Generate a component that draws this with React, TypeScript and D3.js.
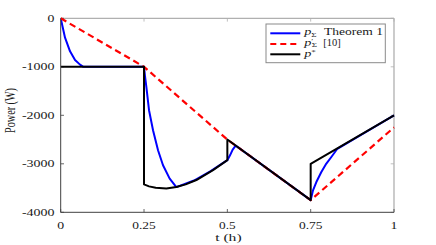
import React from "react";
import * as d3 from "d3";

const W = 436;
const H = 245;

const xTicks = [0, 0.25, 0.5, 0.75, 1];
const xTickLabels = ["0", "0.25", "0.5", "0.75", "1"];
const yTicks = [0, -1000, -2000, -3000, -4000];
const yTickLabels = ["0", "-1000", "-2000", "-3000", "-4000"];

// p_Sigma (Theorem 1)
const blueT = [0, 0.013, 0.028, 0.043, 0.058, 0.068, 0.25, 0.253, 0.257, 0.265, 0.277, 0.292, 0.307, 0.327, 0.347, 0.4, 0.45, 0.5, 0.508, 0.516, 0.525, 0.75, 0.757, 0.767, 0.782, 0.797, 0.812, 0.83, 1];
const blueP = [0, -400, -680, -862, -955, -1000, -1000, -1200, -1413, -1895, -2308, -2721, -3031, -3306, -3480, -3345, -3150, -2925, -2825, -2707, -2625, -3750, -3548, -3376, -3169, -2996, -2860, -2690, -2000];

// p'_Sigma [10]
const redT = [0, 0.25, 0.5, 0.75, 1];
const redP = [0, -1000, -2500, -3750, -2250];

// p*
const blackT = [0, 0.25, 0.25, 0.265, 0.285, 0.317, 0.347, 0.375, 0.407, 0.457, 0.5, 0.5, 0.75, 0.75, 1];
const blackP = [-1000, -1000, -3425, -3465, -3495, -3507, -3480, -3425, -3335, -3130, -2925, -2500, -3750, -3000, -2000];

const L = 60.7, R = 394, T = 18.3, B = 212.3;
const SX = 1.3;
const FONT = "'Liberation Serif', 'Times New Roman', Times, serif";
const TXT = "#1a1a1a";

// width of a numeric label in the stretched look of the reference
function numWidth(s: string) {
  let w = 0;
  for (const c of s) w += c === "." ? 2.8 : c === "-" ? 5 : 6.9;
  return w;
}

export default function App() {
  const x = d3.scaleLinear().domain([0, 1]).range([L, R]);
  const y = d3.scaleLinear().domain([-4000, 0]).range([B, T]);
  const line = d3.line<[number, number]>().x(d => x(d[0])).y(d => y(d[1]));
  const blue = line(blueT.map((t, i) => [t, blueP[i]]) as [number, number][]) || "";
  const red = line(redT.map((t, i) => [t, redP[i]]) as [number, number][]) || "";
  const black = line(blackT.map((t, i) => [t, blackP[i]]) as [number, number][]) || "";
  const tick = 3.3;
  const dark = "#404040";
  const light = "#b0b0b0";

  const legRows = [33.3, 44, 54.3];
  const legText = (yy: number, children: React.ReactNode) => (
    <g transform={`translate(${304.2},${yy})`}>
      <g transform={`scale(${SX},1)`}>
        <text fontSize={11} fontFamily={FONT} fill={TXT}>{children}</text>
      </g>
    </g>
  );
  return (
    <svg width={W} height={H} style={{ position: "absolute", left: 0, top: 0, background: "#fff" }}>
      <rect x={0} y={0} width={W} height={H} fill="#fff" />
      <defs>
        <clipPath id="plotclip">
          <rect x={L} y={T - 2} width={R - L + 2} height={B - T + 4} />
        </clipPath>
      </defs>
      <line x1={L} x2={R} y1={T} y2={T} stroke={light} strokeWidth={1.3} />
      <line x1={R} x2={R} y1={T} y2={B} stroke={light} strokeWidth={1.3} />
      {xTicks.map((t, i) => (
        <g key={"xt" + i}>
          <line x1={x(t)} x2={x(t)} y1={B} y2={B - tick} stroke={dark} strokeWidth={0.8} />
          <line x1={x(t)} x2={x(t)} y1={T} y2={T + tick} stroke={light} strokeWidth={0.8} />
          <text x={x(t)} y={228.5} textAnchor="middle" fontSize={10} fontFamily={FONT} fill={TXT}
            textLength={numWidth(xTickLabels[i])} lengthAdjust="spacingAndGlyphs">
            {xTickLabels[i]}
          </text>
        </g>
      ))}
      {yTicks.map((v, i) => (
        <g key={"yt" + i}>
          <line x1={L} x2={L + tick} y1={y(v)} y2={y(v)} stroke={dark} strokeWidth={0.8} />
          <line x1={R} x2={R - tick} y1={y(v)} y2={y(v)} stroke={light} strokeWidth={0.8} />
          <text x={54.5} y={y(v) + 3.6} textAnchor="end" fontSize={10} fontFamily={FONT} fill={TXT}
            textLength={numWidth(yTickLabels[i])} lengthAdjust="spacingAndGlyphs">
            {yTickLabels[i]}
          </text>
        </g>
      ))}
      <g clipPath="url(#plotclip)" fill="none" strokeLinejoin="round">
        <path d={blue} stroke="#0000ff" strokeWidth={2} />
        <path d={red} stroke="#ff0000" strokeWidth={2.2} strokeDasharray="6.5,4" />
        <path d={black} stroke="#000" strokeWidth={2} />
      </g>
      <line x1={L} x2={L} y1={T} y2={B} stroke={dark} strokeWidth={1} />
      <line x1={L} x2={R} y1={B} y2={B} stroke={dark} strokeWidth={1} />
      <text x={228.4} y={241} textAnchor="middle" fontSize={10.5} fontFamily={FONT} fill={TXT}
        textLength={26.5} lengthAdjust="spacingAndGlyphs">t (h)</text>
      <g transform="translate(14.5,110.5)">
        <g transform={`scale(${SX},1)`}>
          <text transform="rotate(-90)" textAnchor="middle" fontSize={10.5} fontFamily={FONT} fill={TXT}
            textLength={45} lengthAdjust="spacingAndGlyphs">Power (W)</text>
        </g>
      </g>
      {/* legend */}
      <rect x={266} y={24} width={119.3} height={38.7} fill="#fff" stroke="#8a8a8a" strokeWidth={1} />
      <line x1={270.3} x2={300.3} y1={legRows[0]} y2={legRows[0]} stroke="#0000ff" strokeWidth={2} />
      <line x1={270.3} x2={300.3} y1={legRows[1]} y2={legRows[1]} stroke="#ff0000" strokeWidth={2} strokeDasharray="6,4" />
      <line x1={270.3} x2={300.3} y1={legRows[2]} y2={legRows[2]} stroke="#000" strokeWidth={2} />
      {legText(legRows[0] + 1.6, <>
        <tspan fontStyle="italic">p</tspan>
        <tspan fontSize={7} dy={1.6}>Σ</tspan>
      </>)}
      <text x={324} y={legRows[0] + 1.8} fontSize={10.5} fontFamily={FONT} fill={TXT}
        textLength={59} lengthAdjust="spacingAndGlyphs">Theorem 1</text>
      {legText(legRows[1] + 1.8, <>
        <tspan fontStyle="italic">p</tspan>
        <tspan fontSize={7} dy={-3.2}>′</tspan>
        <tspan fontSize={7} dy={4.6} dx={-1.2}>Σ</tspan>
      </>)}
      <text x={323.3} y={legRows[1] + 2} fontSize={10.5} fontFamily={FONT} fill={TXT}
        textLength={17.5} lengthAdjust="spacingAndGlyphs">[10]</text>
      {legText(legRows[2] + 2.2, <>
        <tspan fontStyle="italic">p</tspan>
        <tspan fontSize={7} dy={-3}>*</tspan>
      </>)}
    </svg>
  );
}
